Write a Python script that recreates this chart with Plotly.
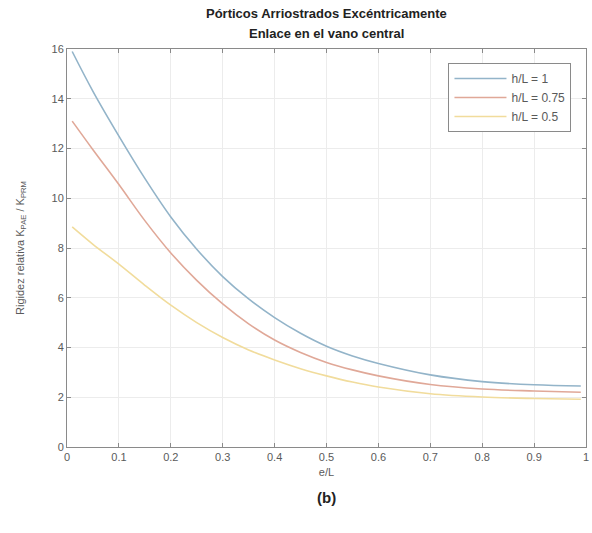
import plotly.graph_objects as go

e_L = [0.01, 0.05, 0.1, 0.15, 0.2, 0.25, 0.3, 0.35, 0.4, 0.45, 0.5, 0.55, 0.6, 0.7, 0.8, 0.9, 0.99]
k_h1 = [15.9, 14.3, 12.5, 10.8, 9.25, 7.95, 6.85, 5.95, 5.2, 4.57, 4.05, 3.66, 3.36, 2.9, 2.63, 2.5, 2.45]
k_h075 = [13.1, 11.95, 10.55, 9.1, 7.8, 6.7, 5.75, 4.95, 4.3, 3.8, 3.4, 3.1, 2.86, 2.51, 2.33, 2.25, 2.2]
k_h05 = [8.85, 8.15, 7.35, 6.5, 5.7, 5.0, 4.4, 3.9, 3.5, 3.15, 2.86, 2.61, 2.41, 2.14, 2.01, 1.95, 1.92]
names = ["h/L = 1", "h/L = 0.75", "h/L = 0.5"]
colors = ["#93b4c9", "#e0a898", "#f1dc9c"]
x_ticks = [0, 0.1, 0.2, 0.3, 0.4, 0.5, 0.6, 0.7, 0.8, 0.9, 1]
x_labels = ["0", "0.1", "0.2", "0.3", "0.4", "0.5", "0.6", "0.7", "0.8", "0.9", "1"]
y_ticks = [0, 2, 4, 6, 8, 10, 12, 14, 16]

fig = go.Figure()
for ys, nm, c in zip([k_h1, k_h075, k_h05], names, colors):
    fig.add_trace(go.Scatter(x=e_L, y=ys, mode="lines", name=nm,
                             line=dict(color=c, width=1.6, shape="spline", smoothing=1.0)))

font = "Liberation Sans, Arial, sans-serif"
axis_common = dict(showline=True, linecolor="#8a8a8a", linewidth=1, mirror="ticks",
                   ticks="inside", ticklen=4, tickcolor="#8a8a8a",
                   showgrid=True, gridcolor="#ececec", gridwidth=1, zeroline=False,
                   ticklabeloverflow="allow",
                   tickfont=dict(family=font, size=11, color="#5a5a5a"))

fig.update_layout(
    width=592, height=533,
    margin=dict(l=67, r=3, t=49, b=86),
    paper_bgcolor="white", plot_bgcolor="white",
    showlegend=True,
    legend=dict(x=0.972, y=0.965, xanchor="right", yanchor="top",
                bordercolor="#8a8a8a", borderwidth=1, bgcolor="white",
                font=dict(family=font, size=12, color="#5a5a5a"),
                tracegroupgap=0, itemwidth=52),
    xaxis=dict(range=[0, 1], tickvals=x_ticks, ticktext=x_labels,
               title=dict(text="e/L", standoff=6, font=dict(family=font, size=11, color="#5a5a5a")),
               **axis_common),
    yaxis=dict(range=[0, 16], tickvals=y_ticks,
               title=dict(text="Rigidez relativa K<sub>PAE</sub> / K<sub>PRM</sub>", standoff=24,
                          font=dict(family=font, size=11, color="#5a5a5a")),
               **axis_common),
    annotations=[
        dict(text="<b>Pórticos Arriostrados Excéntricamente</b>", xref="paper", yref="paper",
             x=0.5, y=1, yshift=36, yanchor="middle", showarrow=False,
             font=dict(family=font, size=13, color="#222")),
        dict(text="<b>Enlace en el vano central</b>", xref="paper", yref="paper",
             x=0.5, y=1, yshift=16, yanchor="middle", showarrow=False,
             font=dict(family=font, size=13, color="#222")),
        dict(text="<b>(b)</b>", xref="paper", yref="paper",
             x=0.5, y=0, yshift=-50, yanchor="middle", showarrow=False,
             font=dict(family=font, size=15, color="#222")),
    ],
)

fig.write_html("out.html")
